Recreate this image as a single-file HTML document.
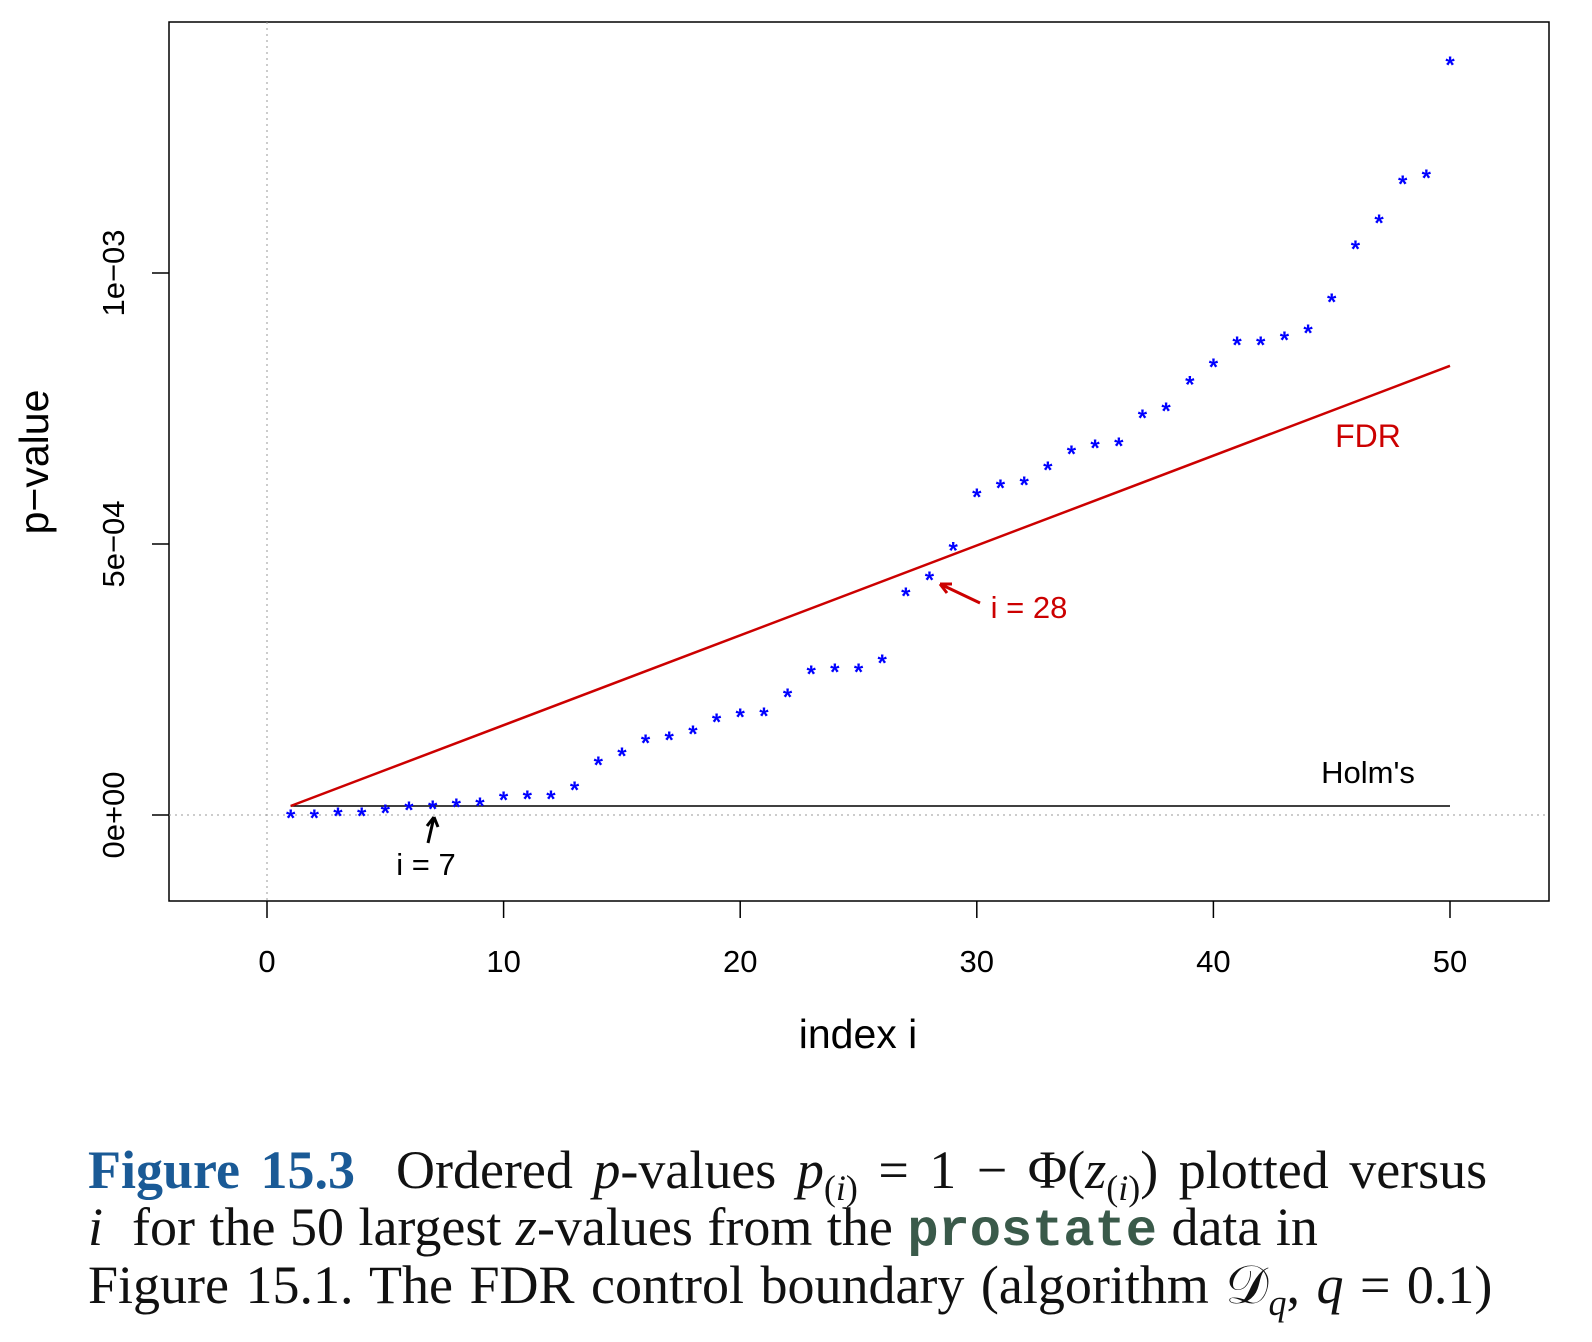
<!DOCTYPE html>
<html><head><meta charset="utf-8"><style>
body{margin:0;background:#fff;width:1592px;height:1342px;overflow:hidden;position:relative}
svg{position:absolute;left:0;top:0}
.cap{position:absolute;left:88px;font-family:"Liberation Serif",serif;font-size:54px;line-height:1;white-space:nowrap;color:#111}
.cap sub{font-size:36px;line-height:0}
</style></head><body>
<svg width="1592" height="1100" font-family="Liberation Sans, sans-serif">
<g id="plot"></g>
</svg>
<div class="cap" style="top:1143px;word-spacing:7px"><b style="color:#1a5a96">Figure 15.3</b>&nbsp; Ordered <i>p</i>-values <i>p</i><sub>(<i>i</i>)</sub> = 1 − Φ(<i>z</i><sub>(<i>i</i>)</sub>) plotted versus</div>
<div class="cap" style="top:1200px;word-spacing:1px"><i>i</i>&nbsp; for the 50 largest <i>z</i>-values from the <b style="font-family:'Liberation Mono',monospace;color:#3a5a4a;font-size:52px">prostate</b> data in</div>
<div class="cap" style="top:1258px;word-spacing:3px">Figure 15.1. The FDR control boundary (algorithm 𝒟<sub><i>q</i></sub>, <i>q</i> = 0.1)</div>
<script>
const pvals = [0.0,0.0,0.04,0.04,0.09,0.15,0.17,0.2,0.22,0.33,0.35,0.35,0.52,0.98,1.14,1.38,1.44,1.55,1.77,1.86,1.88,2.23,2.66,2.69,2.69,2.86,4.1,4.39,4.94,5.92,6.09,6.14,6.42,6.72,6.83,6.86,7.38,7.51,8.0,8.32,8.73,8.73,8.82,8.95,9.52,10.5,10.98,11.7,11.81,13.89];
const xTicks = [0,10,20,30,40,50];
const yTicks = [0,5,10];
const yTickLabels = ["0e+00","5e\u221204","1e\u221203"];
const fdrQ = 0.1, nTotal = 6033;
const NS="http://www.w3.org/2000/svg";
const g=document.getElementById('plot');
const X=v=>267+v*(1450-267)/50;
const Y=v=>815-v*54.2;
function el(t,a,txt){const e=document.createElementNS(NS,t);for(const k in a)e.setAttribute(k,a[k]);if(txt!==undefined)e.textContent=txt;g.appendChild(e);return e;}
let e;
e=el('rect',{x:169,y:22,width:1380,height:879,fill:'none',stroke:'#000','stroke-width':1.5});


e=el('line',{x1:X(0),x2:X(0),y1:22,y2:901,stroke:'#999','stroke-dasharray':'2,4','stroke-width':1});


e=el('line',{x1:169,x2:1549,y1:Y(0),y2:Y(0),stroke:'#999','stroke-dasharray':'2,4','stroke-width':1});


xTicks.forEach(t=>{
 e=el('line',{x1:X(t),x2:X(t),y1:901,y2:918,stroke:'#000','stroke-width':1.5});
 
 
 e=el('text',{x:X(t),y:972,'text-anchor':'middle','font-size':31},t);
 
 
});
yTicks.forEach((t,i)=>{
 e=el('line',{x1:152,x2:169,y1:Y(t),y2:Y(t),stroke:'#000','stroke-width':1.5});
 
 
 e=el('text',{x:0,y:0,'text-anchor':'middle','font-size':31,transform:`translate(124,${Y(t)}) rotate(-90)`},yTickLabels[i]);
 
 
});
e=el('text',{x:858,y:1048,'text-anchor':'middle','font-size':41},'index i');


e=el('text',{x:0,y:0,'text-anchor':'middle','font-size':41,transform:'translate(48,462) rotate(-90)'},'p\u2212value');


const holm=fdrQ/nTotal*1e4;
e=el('line',{x1:X(1),x2:X(50),y1:Y(holm),y2:Y(holm),stroke:'#000','stroke-width':1.5});


e=el('line',{x1:X(1),x2:X(50),y1:Y(fdrQ*1/nTotal*1e4),y2:Y(fdrQ*50/nTotal*1e4),stroke:'#c00','stroke-width':2.5});


pvals.forEach((p,i)=>{
 e=el('text',{x:X(i+1),y:Y(p)+11,'text-anchor':'middle','font-size':24,fill:'#00f','font-weight':'bold'},'*');
 
 
});
e=el('text',{x:1368,y:447,'text-anchor':'middle','font-size':32,fill:'#c00'},'FDR');


e=el('text',{x:1368,y:783,'text-anchor':'middle','font-size':31},"Holm's");


e=el('text',{x:1029,y:618,'text-anchor':'middle','font-size':31,fill:'#c00'},'i = 28');


e=el('text',{x:426,y:875,'text-anchor':'middle','font-size':31},'i = 7');


e=el('path',{d:'M980,603 L940,584 M940,584 L952,584 M940,584 L947,593',stroke:'#c00','stroke-width':3,fill:'none'});


e=el('path',{d:'M428,843 L434,817 M434,817 L427,826 M434,817 L438,827',stroke:'#000','stroke-width':3,fill:'none'});


</script>
</body></html>
